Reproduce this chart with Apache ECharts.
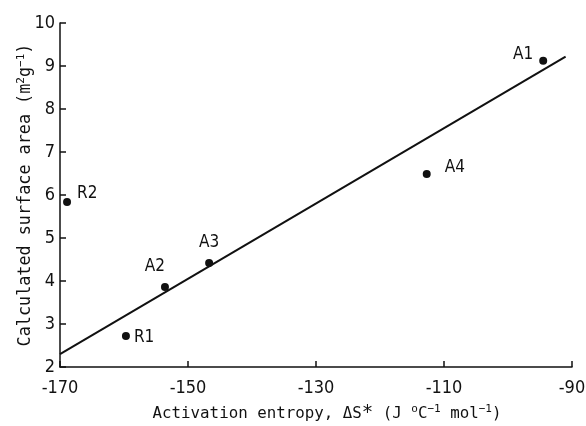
<!DOCTYPE html>
<html>
<head>
<meta charset="utf-8">
<script src="https://cdn.jsdelivr.net/npm/echarts@6/dist/echarts.min.js"></script>
<style>
  html, body { margin: 0; padding: 0; background: #fff; }
  #chart { width: 586px; height: 426px; }
</style>
</head>
<body>
<div id="chart"></div>
<script>
// Samples: activation entropy vs calculated surface area
const sampleNames = ['A1', 'A2', 'A3', 'A4', 'R1', 'R2'];
const entropyValues = [-94.5, -153.6, -146.7, -112.7, -159.7, -168.9];
const surfaceAreaValues = [9.12, 3.86, 4.42, 6.49, 2.72, 5.84];

// Fitted straight line (end points)
const fitEntropy = [-170, -91];
const fitSurfaceArea = [2.3, 9.22];

// Axis ticks
const xTicks = [-170, -150, -130, -110, -90];
const yTicks = [2, 3, 4, 5, 6, 7, 8, 9, 10];

const TICK_FONT = 'DejaVu Sans Condensed, DejaVu Sans';
const NAME_FONT = 'DejaVu Sans Mono';
const INK = '#111111';

// Superscript style shared by both axis titles
const supStyle = { fontFamily: NAME_FONT, fontSize: 11, lineHeight: 12, verticalAlign: 'top', color: INK };
const bigStar = { fontFamily: NAME_FONT, fontSize: 19, lineHeight: 14, verticalAlign: 'top', color: INK };

// Where each sample's tag sits relative to its dot
const tagStyle = {
  A1: { position: 'left', distance: 6, offset: [0, -6] },
  A2: { position: 'top', distance: 8, offset: [-10, 0] },
  A3: { position: 'top', distance: 8, offset: [0, 0] },
  A4: { position: 'right', distance: 14, offset: [0, -6] },
  R1: { position: 'right', distance: 4, offset: [0, 2] },
  R2: { position: 'right', distance: 6, offset: [0, -8] }
};

const points = sampleNames.map((n, i) => ({
  value: [entropyValues[i], surfaceAreaValues[i]],
  name: n,
  label: Object.assign({ show: true, formatter: n }, tagStyle[n])
}));

const fitLine = fitEntropy.map((x, i) => [x, fitSurfaceArea[i]]);

const chart = echarts.init(document.getElementById('chart'), null, { renderer: 'canvas' });

chart.setOption({
  backgroundColor: '#ffffff',
  animation: false,
  grid: { left: 60, right: 14, top: 23, bottom: 59, containLabel: false, outerBoundsMode: 'none' },
  xAxis: {
    type: 'value',
    min: xTicks[0],
    max: xTicks[xTicks.length - 1],
    interval: 20,
    name: 'Activation entropy, ΔS{star|*} (J {s|o}C{s|−1} mol{s|−1})',
    nameLocation: 'middle',
    nameGap: 37,
    nameMoveOverlap: false,
    nameTextStyle: {
      fontFamily: NAME_FONT, fontSize: 15.8, lineHeight: 20, color: INK,
      padding: [0, 0, 0, 22],
      rich: { s: supStyle, star: bigStar }
    },
    axisLine: { show: true, lineStyle: { color: INK, width: 1.5 } },
    axisTick: { show: true, inside: true, length: 6, lineStyle: { color: INK, width: 1.5 } },
    axisLabel: { fontFamily: TICK_FONT, fontSize: 18, color: INK, margin: 12 },
    splitLine: { show: false }
  },
  yAxis: {
    type: 'value',
    min: yTicks[0],
    max: yTicks[yTicks.length - 1],
    interval: 1,
    name: 'Calculated surface area (m{s|2}g{s|−1})',
    nameLocation: 'middle',
    nameGap: 24,
    nameMoveOverlap: false,
    nameRotate: 90,
    nameTextStyle: {
      fontFamily: NAME_FONT, fontSize: 16.8, lineHeight: 20, color: INK,
      rich: { s: supStyle }
    },
    axisLine: { show: true, lineStyle: { color: INK, width: 1.5 } },
    axisTick: { show: true, inside: true, length: 6, lineStyle: { color: INK, width: 1.5 } },
    axisLabel: { fontFamily: TICK_FONT, fontSize: 18, color: INK, margin: 5 },
    splitLine: { show: false }
  },
  series: [
    {
      type: 'line',
      data: fitLine,
      symbol: 'none',
      lineStyle: { color: INK, width: 2 },
      silent: true,
      z: 2
    },
    {
      type: 'scatter',
      data: points,
      symbol: 'circle',
      symbolSize: 8,
      itemStyle: { color: INK, opacity: 1 },
      label: { fontFamily: TICK_FONT, fontSize: 17, color: INK },
      z: 3
    }
  ]
});
</script>
</body>
</html>
